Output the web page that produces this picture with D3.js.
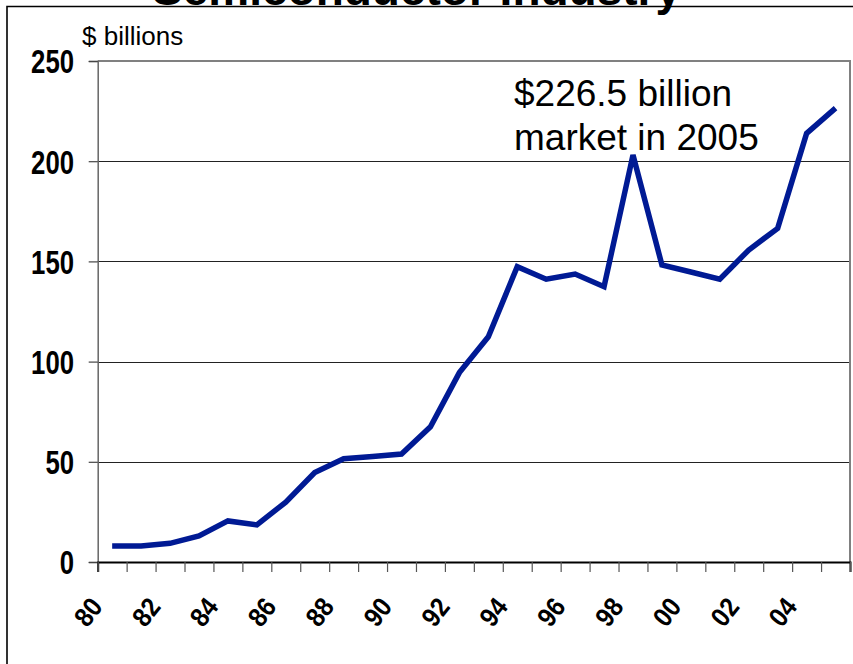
<!DOCTYPE html>
<html>
<head>
<meta charset="utf-8">
<script src="https://cdn.jsdelivr.net/npm/d3@7"></script>
<style>
  html, body { margin: 0; padding: 0; background: #fff; }
  svg { display: block; font-family: "Liberation Sans", Arial, sans-serif; }
</style>
</head>
<body>
<svg id="chart" width="853" height="664"></svg>
<script>
// Worldwide semiconductor sales, $ billions, one value per year
const years = d3.range(1980, 2006);
const sales = [8.0, 8.0, 9.3, 13.0, 20.5, 18.5, 29.9, 44.6, 51.5, 52.7,
               53.9, 67.5, 94.5, 112.4, 147.4, 141.1, 143.7, 137.4, 203.1, 148.2,
               144.7, 141.1, 155.7, 166.5, 213.9, 226.5];
const yTicks = [0, 50, 100, 150, 200, 250];
const xTickLabels = ["80", "82", "84", "86", "88", "90", "92", "94", "96", "98", "00", "02", "04"];
const titleText = "Semiconductor Industry";
const unitText = "$ billions";
const noteLines = ["$226.5 billion", "market in 2005"];

const svg = d3.select("#chart");
const plot = { left: 97.7, right: 850, top: 61, bottom: 562 };

// category slots: one per year, line vertices at slot centres
const x = d3.scaleLinear().domain([0, years.length]).range([plot.left, plot.right]);
const y = d3.scaleLinear().domain([0, 250]).range([plot.bottom, plot.top]);

// title (sits above the frame)
svg.append("text")
  .attr("x", 152).attr("y", 5)
  .attr("font-size", 46).attr("font-weight", "bold")
  .attr("fill", "#000")
  .text(titleText);

// outer frame
svg.append("path")
  .attr("d", `M7,668 V6.5 H860`)
  .attr("fill", "none").attr("stroke", "#000").attr("stroke-width", 1.6);

// plot background
svg.append("rect")
  .attr("x", plot.left).attr("y", plot.top)
  .attr("width", plot.right - plot.left).attr("height", plot.bottom - plot.top)
  .attr("fill", "#fff");

// horizontal gridlines
svg.append("g")
  .selectAll("line")
  .data(yTicks.filter(v => v > 0 && v < 250))
  .join("line")
  .attr("x1", plot.left).attr("x2", plot.right)
  .attr("y1", d => Math.round(y(d)) + 0.5).attr("y2", d => Math.round(y(d)) + 0.5)
  .attr("stroke", "#222").attr("stroke-width", 1);

// plot-area border (top and right)
svg.append("path")
  .attr("d", `M${plot.left},${plot.top} H${plot.right} V${plot.bottom}`)
  .attr("fill", "none").attr("stroke", "#808080").attr("stroke-width", 2);

// y axis
const yAxis = svg.append("g")
  .attr("transform", `translate(${plot.left},0)`)
  .call(d3.axisLeft(y).tickValues(yTicks).tickSize(9));
yAxis.select(".domain").attr("stroke", "#666").attr("stroke-width", 1.5);
yAxis.selectAll(".tick line").attr("stroke", "#444").attr("stroke-width", 1.2);
yAxis.selectAll(".tick text")
  .attr("font-family", "'Liberation Sans', Arial, sans-serif")
  .attr("font-size", 33).attr("font-weight", "bold").attr("fill", "#000")
  .attr("text-anchor", "end")
  .attr("x", 0).attr("dy", "0.36em")
  .attr("transform", `translate(${74 - plot.left},0) scale(0.78,1)`);

// x axis: ticks on slot boundaries
const xAxis = svg.append("g")
  .attr("transform", `translate(0,${plot.bottom})`)
  .call(d3.axisBottom(x).tickValues(d3.range(years.length + 1)).tickSize(10).tickFormat(""));
xAxis.select(".domain").attr("stroke", "#000").attr("stroke-width", 2);
xAxis.selectAll(".tick line").attr("stroke", "#555").attr("stroke-width", 1.2);

// rotated year labels, every other year
svg.append("g")
  .selectAll("text")
  .data(xTickLabels)
  .join("text")
  .attr("transform", (d, i) => `translate(${x(i * 2 + 0.5) - 24},612) rotate(-52) scale(0.9,1)`)
  .attr("text-anchor", "middle")
  .attr("dy", "0.35em")
  .attr("font-size", 27).attr("font-weight", "bold").attr("fill", "#000")
  .text(d => d);

// unit label
svg.append("text")
  .attr("x", 82).attr("y", 45)
  .attr("font-size", 26).attr("fill", "#000")
  .text(unitText);

// sales line
const line = d3.line()
  .x((d, i) => x(i + 0.5))
  .y(d => y(d));
svg.append("path")
  .datum(sales)
  .attr("d", line)
  .attr("fill", "none")
  .attr("stroke", "#001a94")
  .attr("stroke-width", 5.5)
  .attr("stroke-linejoin", "miter")
  .attr("stroke-linecap", "butt");

// annotation
svg.append("g")
  .selectAll("text")
  .data(noteLines)
  .join("text")
  .attr("x", 514).attr("y", (d, i) => 106 + i * 44)
  .attr("font-size", 37).attr("fill", "#000")
  .text(d => d);
</script>
</body>
</html>
